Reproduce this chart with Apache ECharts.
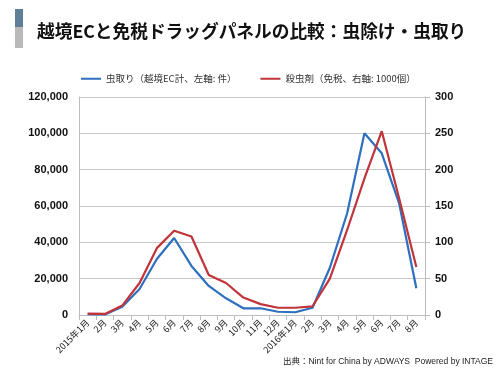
<!DOCTYPE html>
<html>
<head>
<meta charset="utf-8">
<script src="https://cdn.jsdelivr.net/npm/echarts@6/dist/echarts.min.js"></script>
<style>
  html, body { margin: 0; padding: 0; background: #fff; }
  #chart { width: 500px; height: 375px; }
</style>
</head>
<body>
<div id="chart"></div>
<script>
// 月（2015年1月〜2016年8月）
const months = ['2015年1月', '2月', '3月', '4月', '5月', '6月', '7月', '8月', '9月', '10月', '11月', '12月',
  '2016年1月', '2月', '3月', '4月', '5月', '6月', '7月', '8月'];
// 虫取り（越境EC計、左軸: 件）
const ecCounts = [500, 300, 4500, 14300, 30800, 42400, 27000, 16000, 9200, 3700, 3700, 1800,
  1500, 4000, 26000, 56000, 100000, 89000, 61600, 14700];
// 殺虫剤（免税、右軸: 1000個）
const dutyFree = [2, 1.5, 13, 44, 92, 116, 108, 55, 44, 24, 15, 10,
  10, 12, 50, 117, 188, 253, 161, 66];
const leftTicks = [0, 20000, 40000, 60000, 80000, 100000, 120000];
const rightTicks = [0, 50, 100, 150, 200, 250, 300];

const FONT = '"Noto Sans CJK JP", "Liberation Sans", sans-serif';
const LATIN = '"Liberation Sans", "Noto Sans CJK JP", sans-serif';
const chart = echarts.init(document.getElementById('chart'), null, { renderer: 'canvas' });

chart.setOption({
  backgroundColor: '#ffffff',
  animation: false,
  textStyle: { fontFamily: FONT },
  graphic: [
    { type: 'rect', shape: { x: 15, y: 9, width: 8, height: 18 }, style: { fill: '#5f7f96' } },
    { type: 'rect', shape: { x: 15, y: 27, width: 8, height: 21 }, style: { fill: '#b9b9b9' } },
    {
      type: 'text', left: 37, top: 22,
      style: { text: '越境ECと免税ドラッグパネルの比較：虫除け・虫取り', fontFamily: FONT,
        fontSize: 17.7, fontWeight: 'bold', fill: '#111' }
    },
    {
      type: 'text', right: 7, top: 357,
      style: { text: '出典：Nint for China by ADWAYS  Powered by INTAGE', fontFamily: LATIN,
        fontSize: 8.5, fill: '#222' }
    }
  ],
  legend: {
    top: 69,
    left: 76,
    itemWidth: 20,
    itemHeight: 2,
    itemGap: 24,
    icon: 'rect',
    textStyle: { fontSize: 9.5, color: '#333', fontFamily: FONT },
    data: ['虫取り（越境EC計、左軸: 件）', '殺虫剤（免税、右軸: 1000個）']
  },
  grid: { left: 79, right: 75, top: 97, bottom: 60, containLabel: false },
  xAxis: {
    type: 'category',
    data: months,
    boundaryGap: true,
    axisLine: { lineStyle: { color: '#bdbdbd' } },
    axisTick: { show: true, interval: 0, lineStyle: { color: '#bdbdbd' } },
    axisLabel: { interval: 0, rotate: 45, fontSize: 9, color: '#222', margin: 6, fontFamily: FONT }
  },
  yAxis: [{
    type: 'value',
    position: 'left',
    min: leftTicks[0],
    max: leftTicks[leftTicks.length - 1],
    interval: 20000,
    axisLine: { show: true, lineStyle: { color: '#bdbdbd' } },
    axisTick: { show: false },
    axisLabel: {
      fontSize: 11, fontWeight: 'bold', color: '#111', margin: 11, fontFamily: LATIN,
      formatter: v => v.toLocaleString('en-US')
    },
    splitLine: { lineStyle: { color: '#c8c8c8', width: 1 } }
  }, {
    type: 'value',
    position: 'right',
    min: rightTicks[0],
    max: rightTicks[rightTicks.length - 1],
    interval: 50,
    axisLine: { show: true, lineStyle: { color: '#bdbdbd' } },
    axisTick: { show: true, lineStyle: { color: '#bdbdbd' } },
    axisLabel: { fontSize: 11, fontWeight: 'bold', color: '#111', margin: 10, fontFamily: LATIN },
    splitLine: { show: false }
  }],
  series: [{
    name: '虫取り（越境EC計、左軸: 件）',
    type: 'line',
    yAxisIndex: 0,
    data: ecCounts,
    symbol: 'none',
    color: '#2e6fc0',
    lineStyle: { width: 2.2, color: '#2e6fc0' }
  }, {
    name: '殺虫剤（免税、右軸: 1000個）',
    type: 'line',
    yAxisIndex: 1,
    data: dutyFree,
    symbol: 'none',
    color: '#c0343a',
    lineStyle: { width: 2.2, color: '#c0343a' }
  }]
});
</script>
</body>
</html>
